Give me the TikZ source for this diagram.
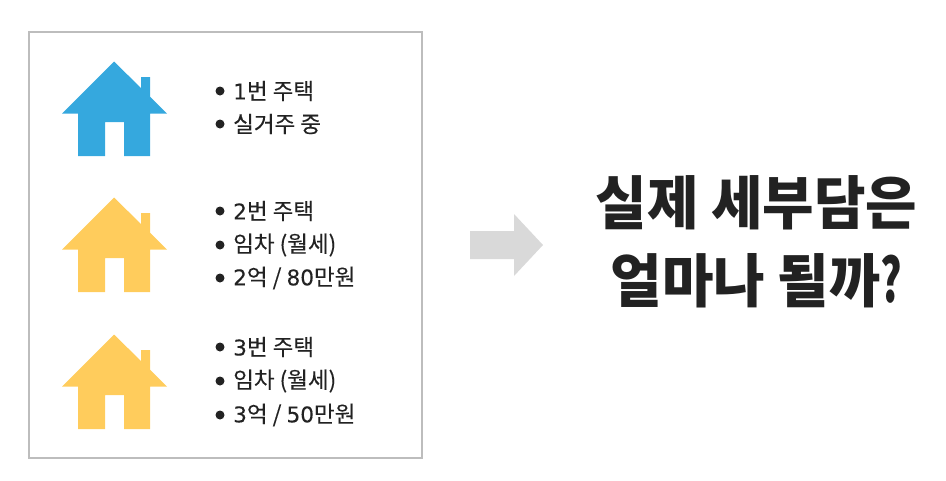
\documentclass[tikz,border=0pt]{standalone}
\usepackage{fontspec}
\setmainfont{Noto Sans CJK KR}[FakeBold=0.25]
\newfontfamily\titlefont{Noto Sans CJK KR}[FakeStretch=0.965]
\newfontfamily\digitfont{DejaVu Sans}[FakeBold=0.2,Scale=0.96]
\newcommand{\dg}[1]{{\digitfont #1}}
\definecolor{houseblue}{HTML}{35A8DE}
\definecolor{houseyellow}{HTML}{FFCC5C}
\definecolor{framegray}{HTML}{BDBDBD}
\definecolor{arrowgray}{HTML}{D9D9D9}
\definecolor{inkdark}{HTML}{222222}
\tikzset{
  listline/.style={anchor=west,inner sep=0pt,text=inkdark,font=\fontsize{22.5}{27}\selectfont},
  bigline/.style={anchor=center,inner sep=0pt,text=inkdark,font=\titlefont\bfseries\fontsize{58}{66}\selectfont},
  dotmark/.style={fill=inkdark,draw=none},
}
\newcommand{\houseshape}[3]{%
  \fill[#1,even odd rule,shift={(#2,#3)}]
    (0,0) -- (27,26.5) -- (27,15.5) -- (36,15.5) -- (36,35) -- (53,52) -- (36,52) -- (36,94.5)
    -- (10,94.5) -- (10,60.5) -- (-9,60.5) -- (-9,94.5) -- (-36,94.5) -- (-36,52) -- (-52,52) -- cycle;
}
\newcommand{\listitem}[3]{%
  \fill[dotmark] (220,#1) circle (4.5);
  \node[listline] (#2) at (233,#1) {#3};
}
\begin{document}
\begin{tikzpicture}[x=1pt,y=-1pt]
\useasboundingbox (0,0) rectangle (946,480);
\draw[framegray,line width=2pt] (29,32) rectangle (422,458);
\houseshape{houseblue}{114}{61.5}
\houseshape{houseyellow}{114}{197.5}
\houseshape{houseyellow}{114}{334.5}
\listitem{91}{a1}{\dg{1}번 주택}
\listitem{124}{a2}{실거주 중}
\listitem{211}{b1}{\dg{2}번 주택}
\listitem{245}{b2}{임차 (월세)}
\listitem{278}{b3}{\dg{2}억 / \dg{80}만원}
\listitem{347}{c1}{\dg{3}번 주택}
\listitem{381}{c2}{임차 (월세)}
\listitem{415}{c3}{\dg{3}억 / \dg{50}만원}
\fill[arrowgray] (470,231) -- (514,231) -- (514,214) -- (543,245) -- (514,276) -- (514,259) -- (470,259) -- cycle;
\node[bigline] (t1) at (756.5,203) {실제 세부담은};
\node[bigline] (t2) at (756.5,281) {얼마나 될까\scalebox{0.72}[1.05]{?}};
\end{tikzpicture}
\end{document}
